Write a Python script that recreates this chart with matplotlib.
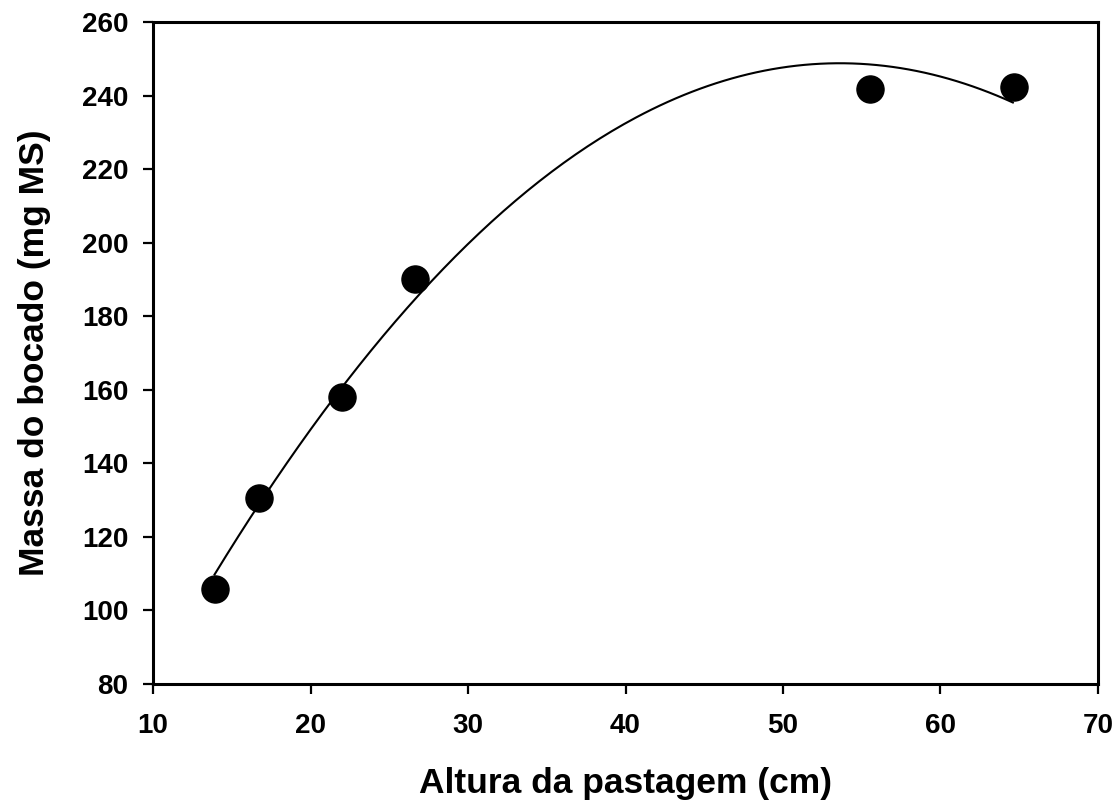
import matplotlib.pyplot as plt
import numpy as np

plt.rcParams['font.family'] = ['Liberation Sans', 'DejaVu Sans']
plt.rcParams['font.weight'] = 'bold'

# observed points
altura = [13.9, 16.7, 22.0, 26.6, 55.5, 64.7]
massa = [105.8, 130.5, 158.0, 190.2, 241.7, 242.2]

# quadratic regression line (coefficients)
coef = [-0.0882, 9.455, -4.6]
x_min, x_max = 13.9, 64.6

xticks = [10, 20, 30, 40, 50, 60, 70]
yticks = [80, 100, 120, 140, 160, 180, 200, 220, 240, 260]

fig = plt.figure(figsize=(11.18, 8.07), dpi=100)
ax = fig.add_axes([0.137, 0.1524, 0.845, 0.8203])

xs = np.linspace(x_min, x_max, 200)
ax.plot(xs, np.polyval(coef, xs), color='black', lw=1.5, zorder=2)
ax.plot(altura, massa, 'o', color='black', markersize=19.5, zorder=3)

ax.set_xlim(10, 70)
ax.set_ylim(80, 260)
ax.set_xticks(xticks)
ax.set_yticks(yticks)
ax.tick_params(direction='out', length=7, width=1.6, labelsize=20)
ax.tick_params(axis='y', pad=11)
ax.tick_params(axis='x', pad=14)
for s in ax.spines.values():
    s.set_linewidth(2.2)
for lab in ax.get_xticklabels() + ax.get_yticklabels():
    lab.set_fontweight('bold')

ax.set_xlabel('Altura da pastagem (cm)', fontsize=25.5, fontweight='bold', labelpad=20)
ax.set_ylabel('Massa do bocado (mg MS)', fontsize=25.5, fontweight='bold', labelpad=22)

fig.savefig('out.png', dpi=100)
